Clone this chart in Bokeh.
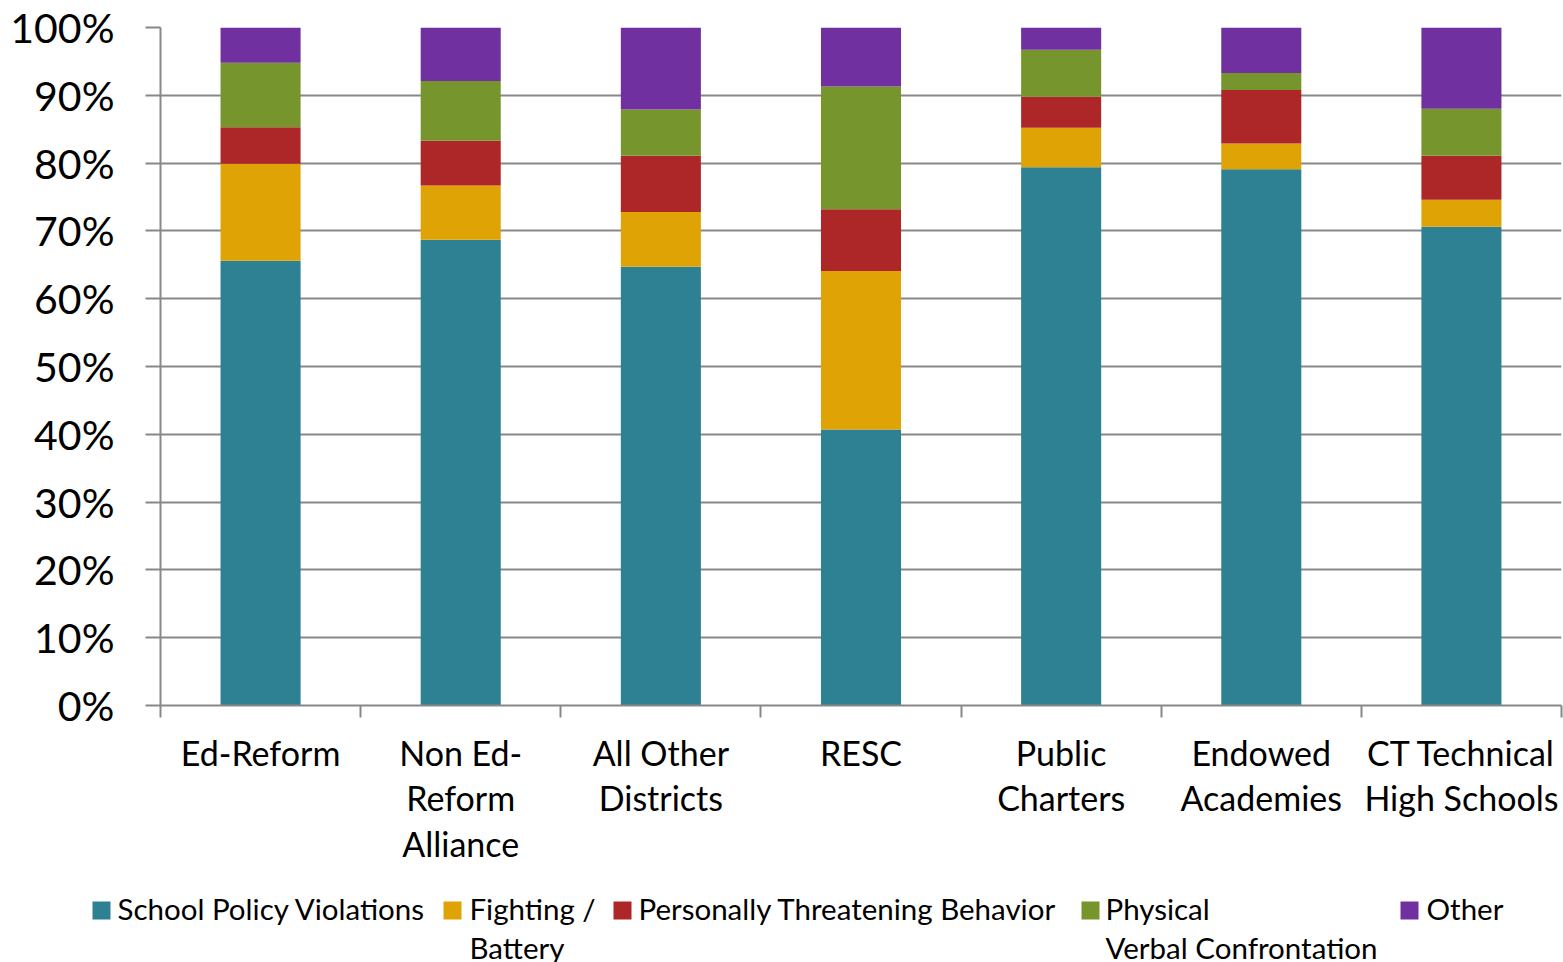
from bokeh.plotting import figure
from bokeh.models import ColumnDataSource, Range1d, FixedTicker
from bokeh.layouts import column
from bokeh.embed import file_html
from bokeh.resources import INLINE
from bokeh.core.properties import value

# ---- data (percent of incidents) ----
categories = ["Ed-Reform", "Non Ed-\nReform\nAlliance", "All Other\nDistricts", "RESC",
              "Public\nCharters", "Endowed\nAcademies", "CT Technical\nHigh Schools"]
school_policy = [65.6, 68.7, 64.7, 40.7, 79.4, 79.1, 70.6]
fighting = [14.3, 8.0, 8.1, 23.4, 5.8, 3.8, 4.0]
threatening = [5.4, 6.6, 8.3, 9.1, 4.6, 7.9, 6.5]
physical_verbal = [9.5, 8.8, 6.8, 18.1, 6.9, 2.5, 6.9]
other = [5.2, 7.9, 12.1, 8.7, 3.3, 6.7, 12.0]
series_names = ["School Policy Violations", "Fighting /\nBattery", "Personally Threatening Behavior",
                "Physical\nVerbal Confrontation", "Other"]
y_ticks = [0, 10, 20, 30, 40, 50, 60, 70, 80, 90, 100]
y_tick_labels = ["0%", "10%", "20%", "30%", "40%", "50%", "60%", "70%", "80%", "90%", "100%"]

colors = ["#2E8093", "#E0A306", "#AD2729", "#76962D", "#7030A0"]
GRAY = "#888888"
FONT = "Lato"

n = len(categories)
xs = [i + 0.5 for i in range(n)]
keys = ["spv", "fight", "ptb", "pvc", "oth"]
source = ColumnDataSource(dict(x=xs, spv=school_policy, fight=fighting, ptb=threatening,
                               pvc=physical_verbal, oth=other))

p = figure(width=1563, height=870, x_range=Range1d(0, n), y_range=Range1d(0, 100),
           output_backend="svg", toolbar_location=None,
           min_border_left=160, min_border_right=2, min_border_top=27, min_border_bottom=165)
p.outline_line_color = None
p.background_fill_color = "white"
p.border_fill_color = "white"

p.vbar_stack(keys, x="x", width=0.4, color=colors, line_color=None, source=source)

# y axis
p.yaxis.ticker = FixedTicker(ticks=y_ticks, minor_ticks=[])
p.yaxis.major_label_overrides = {t: l for t, l in zip(y_ticks, y_tick_labels)}
p.yaxis.major_label_text_font = FONT
p.yaxis.major_label_text_font_size = "41px"
p.yaxis.major_label_text_color = "black"
p.yaxis.major_label_standoff = 31
p.yaxis.major_tick_out = 15
p.yaxis.major_tick_in = 0
p.yaxis.minor_tick_out = 0
p.yaxis.minor_tick_in = 0
p.yaxis.axis_line_color = GRAY
p.yaxis.axis_line_width = 2
p.yaxis.major_tick_line_color = GRAY
p.yaxis.major_tick_line_width = 2

# x axis: labels at centres, ticks at category boundaries
p.xaxis.ticker = FixedTicker(ticks=xs, minor_ticks=list(range(n + 1)))
p.xaxis.major_label_overrides = {x: c for x, c in zip(xs, categories)}
p.xaxis.major_label_text_font = FONT
p.xaxis.major_label_text_font_size = "34px"
p.xaxis.major_label_text_color = "black"
p.xaxis.major_label_text_line_height = 1.12
p.xaxis.major_label_standoff = 14
p.xaxis.major_tick_out = 0
p.xaxis.major_tick_in = 0
p.xaxis.minor_tick_out = 12
p.xaxis.minor_tick_in = 0
p.xaxis.minor_tick_line_color = GRAY
p.xaxis.minor_tick_line_width = 2
p.xaxis.axis_line_color = GRAY
p.xaxis.axis_line_width = 2

p.xgrid.grid_line_color = None
p.ygrid.ticker = FixedTicker(ticks=y_ticks)
p.ygrid.grid_line_color = GRAY
p.ygrid.grid_line_width = 2

# ---- legend as its own strip ----
lg = figure(width=1563, height=92, x_range=Range1d(0, 1563), y_range=Range1d(962, 870),
            output_backend="svg", toolbar_location=None,
            min_border=0, min_border_left=0, min_border_right=0, min_border_top=0, min_border_bottom=0)
lg.axis.visible = False
lg.grid.visible = False
lg.outline_line_color = None
for fig in (p, lg):
    try:
        fig.frame_align = False
    except Exception:
        pass
sq_x = [101, 452, 622, 1090, 1409]
tx_x = [117, 469, 638, 1105, 1426]
lg.rect(x=sq_x, y=[910] * 5, width=18, height=18, width_units="screen", height_units="screen",
        fill_color=colors, line_color=None)
lg.text(x=tx_x, y=[890] * 5, text=series_names, text_font=value(FONT), text_font_size="29.5px",
        text_baseline="top", text_align="left", text_line_height=1.12, text_color="black")

layout = column(p, lg, spacing=0)
open("out.html", "w").write(file_html(layout, INLINE))
